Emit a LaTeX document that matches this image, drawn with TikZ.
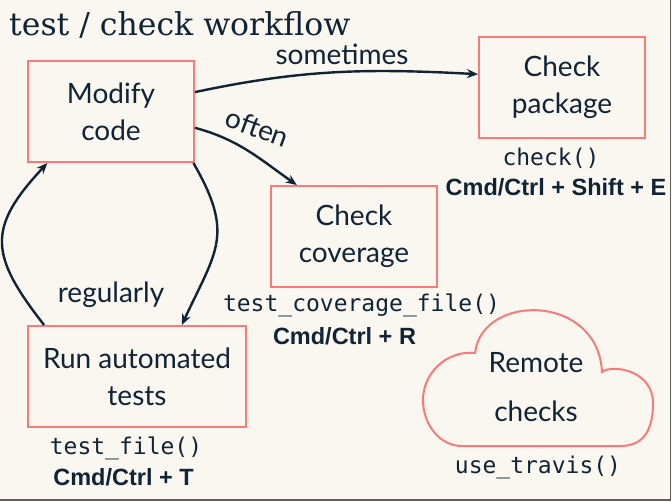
\documentclass[tikz,border=0pt]{standalone}
\usepackage{fontspec}
\usetikzlibrary{arrows.meta,positioning}
\newfontfamily\boxfont{Lato}
\newfontfamily\codefont{DejaVu Sans Mono}
\newfontfamily\keyfont{Liberation Sans}
\newfontfamily\titlefont{DejaVu Serif}
\definecolor{paper}{RGB}{249,247,240}
\definecolor{ink}{RGB}{16,36,54}
\definecolor{salmon}{RGB}{250,122,122}
\definecolor{edge}{RGB}{95,95,95}

\begin{document}
\begin{tikzpicture}[x=1pt,y=1pt,
                    every node/.style={text=ink},
                    task/.style={draw=salmon,line width=2pt,minimum width=166pt,
                                 minimum height=101pt,inner sep=0pt,align=center,
                                 font=\boxfont\fontsize{28}{37}\selectfont},
                    word/.style={anchor=base,font=\boxfont\fontsize{28}{34}\selectfont},
                    code/.style={anchor=base,font=\codefont\fontsize{23}{27}\selectfont},
                    keys/.style={anchor=base,font=\keyfont\bfseries\fontsize{23.5}{28}\selectfont},
                    flow/.style={draw=ink,line width=2.4pt,-{Stealth[length=11pt,width=9pt]}}]
    \useasboundingbox (0,0) rectangle (672,501);
    \fill[paper] (0,0) rectangle (672,501);
    \draw[edge,line width=1.5pt] (670.5,501) -- (670.5,1) -- (0,1);

    \node[anchor=base west,inner sep=0pt,font=\titlefont\fontsize{31.5}{36}\selectfont] (title) at (9,465) {test / check workflow};

    % boxes
    \node[task] (modify) at (111,389.5) {Modify\\code};
    \node[task] (package) at (562,413.5) {Check\\package};
    \node[task] (coverage) at (354,264.5) {Check\\coverage};
    \node[task,minimum width=218pt] (run) at (137,124.5) {Run automated\\tests};
    \node[align=center,font=\boxfont\fontsize{28}{49}\selectfont] (remote) at (536,113.5) {Remote\\checks};
    \draw[salmon,line width=2pt] (462,55) .. controls (440,55) and (423,76) .. (423,101)
        .. controls (423,129) and (448,151) .. (475,148)
        .. controls (482,208) and (598,208) .. (602,129)
        .. controls (612,137) and (653,131) .. (653,98)
        .. controls (653,66) and (640,55) .. (620,55) -- cycle;

    % functions and shortcuts
    \node[code] (checkfun) at (551,335) {\detokenize{check()}};
    \node[keys] (checkkey) at (556,305) {Cmd/Ctrl + Shift + E};
    \node[code] (coverfun) at (361.5,189) {\detokenize{test_coverage_file()}};
    \node[keys] (coverkey) at (344.5,156) {Cmd/Ctrl + R};
    \node[code] (testfun) at (126,47) {\detokenize{test_file()}};
    \node[keys] (testkey) at (123.5,16) {Cmd/Ctrl + T};
    \node[code] (travisfun) at (538,28) {\detokenize{use_travis()}};

    % arrows
    \draw[flow] (modify.13.5) to[out=12,in=177] (package.171.4);
    \node[word] (sometimes) at (342,436) {sometimes};
    \draw[flow] (modify.-11.2) to[out=-15,in=145] (coverage.138);
    \node[word,rotate=-20,inner sep=1pt] (often) at (254,364) {often};
    \draw[flow] (modify.-32) to[out=-60,in=65,looseness=1.3] (run.49.6);
    \draw[flow] (run.151.7) to[out=128,in=-133,looseness=1.4] (modify.-141);
    \node[word] (regularly) at (111,198) {regularly};
\end{tikzpicture}
\end{document}
